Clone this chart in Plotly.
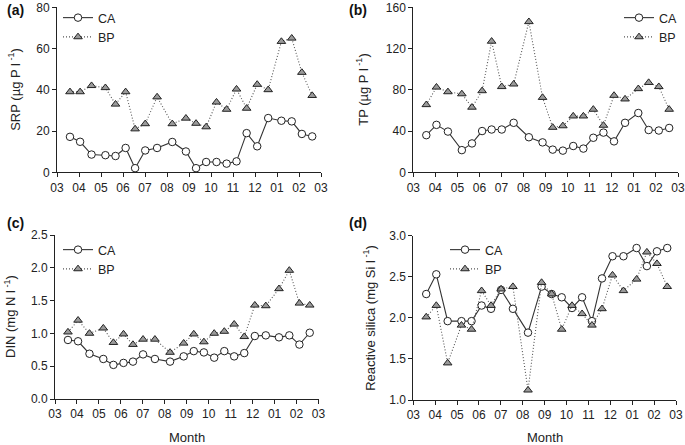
import plotly.graph_objects as go

# sampling dates, in months after the start of March
months = [0.59, 1.05, 1.57, 2.20, 2.66, 3.12, 3.55, 4.01, 4.55, 5.24, 5.86, 6.32,
          6.78, 7.25, 7.71, 8.16, 8.62, 9.10, 9.60, 10.20, 10.67, 11.13, 11.60]
month_ticks = list(range(13))
month_labels = ["03", "04", "05", "06", "07", "08", "09", "10", "11", "12", "01", "02", "03"]

srp_ca = [17.2, 14.8, 8.6, 8.3, 7.9, 11.8, 2.0, 10.6, 11.8, 14.7, 10.1, 2.0,
          5.0, 5.0, 4.2, 5.3, 19.0, 12.6, 26.3, 25.0, 24.7, 18.6, 17.4]
srp_bp = [39, 39, 42, 41, 33, 39, 21, 23.5, 36.5, 23.5, 26.2, 23.7,
          22, 34, 30.5, 40.3, 31, 42.6, 40, 63.4, 65, 48.4, 37.2]
tp_ca = [36, 46, 39.5, 21.5, 28, 40, 41.5, 41.5, 48, 34, 29, 22,
         21, 25.5, 23, 33.5, 38.5, 30, 48, 57.5, 41, 40.5, 43]
tp_bp = [65.5, 82.5, 78, 76, 63, 79, 127, 83, 85.5, 146, 72.5, 43.5,
         45, 54.5, 54.5, 61, 45.5, 74.5, 71, 81, 87, 83, 61]
din_ca = [0.90, 0.88, 0.69, 0.61, 0.52, 0.55, 0.57, 0.68, 0.61, 0.57, 0.65, 0.73,
          0.71, 0.63, 0.73, 0.65, 0.70, 0.96, 0.97, 0.94, 0.97, 0.83, 1.01]
din_bp = [1.02, 1.20, 1.00, 1.08, 0.86, 0.99, 0.83, 0.91, 0.91, 0.71, 0.85, 0.99,
          0.87, 1.00, 1.03, 1.14, 0.95, 1.43, 1.42, 1.68, 1.96, 1.46, 1.43]
si_ca = [2.29, 2.53, 1.96, 1.96, 1.96, 2.15, 2.11, 2.34, 2.11, 1.82, 2.38, 2.29,
         2.25, 2.12, 2.25, 1.96, 2.48, 2.75, 2.75, 2.85, 2.63, 2.81, 2.85]
si_bp = [2.01, 2.15, 1.45, 1.91, 1.86, 2.33, 2.15, 2.35, 2.38, 1.12, 2.43, 2.29,
         1.86, 2.15, 2.05, 1.91, 2.11, 2.52, 2.33, 2.47, 2.80, 2.66, 2.38]

W, H = 685, 445
FONT = "Liberation Sans, Arial, Helvetica, sans-serif"

panels = [
    # name, ca, bp, yrange, ydtick, xdom(px), ydom(px top,bottom), ytitle, title_x, legend pos
    ("a", srp_ca, srp_bp, [0, 80], 20, (57, 321), (7.3, 172.3),
     "SRP (µg P l<sup> -1</sup>)", 14, (58, 3, "left")),
    ("b", tp_ca, tp_bp, [0, 160], 40, (413.3, 678), (7.3, 172.3),
     "TP (µg P l<sup> -1</sup>)", 362, (683, 3, "right")),
    ("c", din_ca, din_bp, [0, 2.5], 0.5, (55, 318.5), (235, 399),
     "DIN (mg N l<sup> -1</sup>)", 10, (58, 235, "left")),
    ("d", si_ca, si_bp, [1.0, 3.0], 0.5, (413.3, 676), (235.7, 400),
     "Reactive silica (mg Si l<sup> -1</sup>)", 369, (445, 235, "left")),
]

fig = go.Figure()
layout = dict(
    template="none",
    width=W, height=H,
    margin=dict(l=0, r=0, t=0, b=0),
    paper_bgcolor="white", plot_bgcolor="white",
    font=dict(family=FONT, size=12, color="#222"),
    showlegend=True,
)
annotations = []

for i, (name, ca, bp, yr, dt, xd, yd, ytitle, tx, lg) in enumerate(panels):
    k = "" if i == 0 else str(i + 1)
    legname = "legend" + k
    fig.add_trace(go.Scatter(
        x=months, y=ca, name="CA", mode="lines+markers",
        xaxis="x" + k, yaxis="y" + k, legend=legname,
        line=dict(color="#333", width=1.1),
        marker=dict(symbol="circle", size=7.5, color="white",
                    line=dict(color="#222", width=1)),
    ))
    fig.add_trace(go.Scatter(
        x=months, y=bp, name="BP", mode="lines+markers",
        xaxis="x" + k, yaxis="y" + k, legend=legname,
        line=dict(color="#555", width=1.1, dash="1px,2px"),
        marker=dict(symbol="triangle-up", size=7.5, color="#9a9a9a",
                    line=dict(color="#222", width=1)),
    ))
    layout["xaxis" + k] = dict(
        domain=[xd[0] / W, xd[1] / W], anchor="y" + k,
        range=[0, 12], tickvals=month_ticks, ticktext=month_labels,
        showline=True, linecolor="#222", linewidth=1,
        ticks="outside", ticklen=4, tickcolor="#222",
        showgrid=False, zeroline=False, automargin=False,
        tickfont=dict(size=12, family=FONT, color="#222"),
    )
    layout["yaxis" + k] = dict(
        domain=[1 - yd[1] / H, 1 - yd[0] / H], anchor="x" + k,
        range=yr, dtick=dt, tick0=yr[0],
        tickformat=".1f" if dt < 1 else "d",
        showline=True, linecolor="#222", linewidth=1,
        ticks="outside", ticklen=4, tickcolor="#222",
        showgrid=False, zeroline=False, automargin=False,
        tickfont=dict(size=12, family=FONT, color="#222"),
    )
    layout[legname] = dict(
        x=lg[0] / W, y=1 - lg[1] / H, xanchor=lg[2], yanchor="top",
        bgcolor="rgba(0,0,0,0)", font=dict(size=12.5, family=FONT, color="#222"),
        tracegroupgap=0, itemwidth=30,
    )
    # panel label
    px = 5 if xd[0] < 300 else 347
    py = 10 if yd[0] < 100 else 223
    annotations.append(dict(
        text="<b>(%s)</b>" % name, x=px / W, y=1 - py / H, xref="paper", yref="paper",
        xanchor="left", yanchor="middle", showarrow=False,
        font=dict(size=14, family=FONT, color="#111"),
    ))
    # y-axis title
    annotations.append(dict(
        text=ytitle, x=tx / W, y=1 - (yd[0] + yd[1]) / 2 / H,
        xref="paper", yref="paper", xanchor="center", yanchor="middle",
        textangle=-90, showarrow=False,
        font=dict(size=13, family=FONT, color="#222"),
    ))

for cx in (187, 545):
    annotations.append(dict(
        text="Month", x=cx / W, y=1 - 437 / H, xref="paper", yref="paper",
        xanchor="center", yanchor="middle", showarrow=False,
        font=dict(size=13, family=FONT, color="#222"),
    ))

layout["annotations"] = annotations
fig.update_layout(**layout)
fig.write_html("out.html",
               config={"displayModeBar": False},
               post_script="document.body.style.margin='0';document.body.style.overflow='hidden';")
